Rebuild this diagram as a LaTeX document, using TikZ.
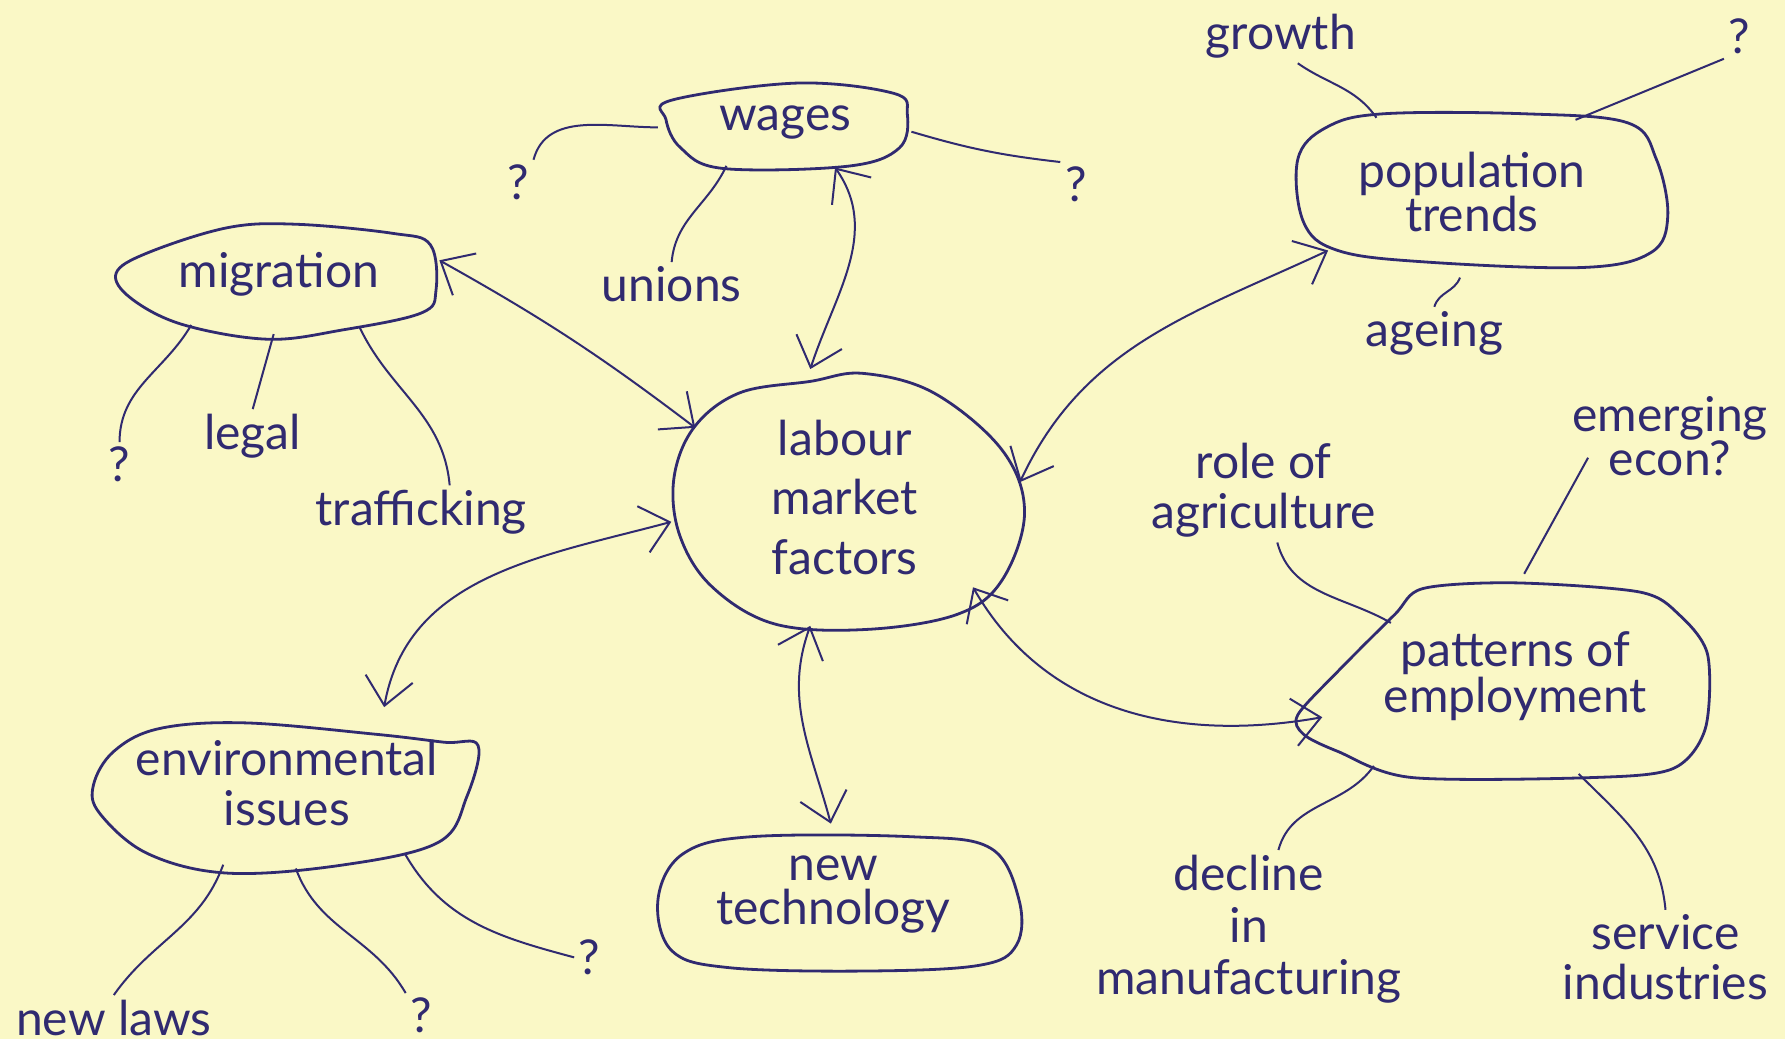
\documentclass[tikz,border=0pt]{standalone}
\usepackage{fontspec}
\setmainfont{Lato}
\usetikzlibrary{arrows.meta, shapes.geometric}
\definecolor{ink}{RGB}{48,42,112}
\definecolor{paper}{RGB}{250,248,198}

\begin{document}
\begin{tikzpicture}[
    font=\fontsize{12}{12.5}\selectfont, text=ink,
    hub/.style={ellipse, align=center, inner sep=0pt, outer sep=0pt},
    leaf/.style={align=center, inner sep=1pt},
    outline/.style={ink, line width=0.7pt, line join=round},
    link/.style={ink, line width=0.5pt},
    twoway/.style={link, {Straight Barb[length=2.4mm,width=4.2mm]}-{Straight Barb[length=2.4mm,width=4.2mm]}}
  ]
  % Paper
  \fill[paper] (0,0) rectangle (15.68,9.13);
  \useasboundingbox (0,0) rectangle (15.68,9.13);

  % Main topics
  \node[hub, minimum width=2.25cm, minimum height=0.85cm] (wag) at (6.90,8.05) {wages};
  \node[hub, minimum width=2.9cm, minimum height=1.05cm] (mig) at (2.45,6.72) {migration};
  \node[hub, minimum width=3.45cm, minimum height=1.5cm, font=\fontsize{12}{11}\selectfont] (pop) at (12.93,7.44) {population\\trends};
  \node[hub, minimum width=3.1cm, minimum height=2.3cm, font=\fontsize{12}{14.8}\selectfont] (lab) at (7.42,4.76) {labour\\market\\factors};
  \node[hub, minimum width=3.7cm, minimum height=1.8cm, font=\fontsize{12}{11.4}\selectfont] (pat) at (13.31,3.19) {patterns of\\employment};
  \node[hub, minimum width=3.6cm, minimum height=1.5cm] (env) at (2.52,2.25) {environmental\\issues};
  \node[hub, minimum width=3.25cm, minimum height=1.25cm, font=\fontsize{12}{11}\selectfont] (tech) at (7.32,1.27) {new\\technology};

  % Outlines
  \draw[outline] plot[smooth cycle, tension=0.6] coordinates {(5.90,8.25) (7.00,8.40) (7.85,8.31) (7.97,8.13) (7.90,7.83) (7.45,7.67) (6.35,7.65) (5.98,7.83) (5.85,8.08)};
  \draw[outline] plot[smooth cycle, tension=0.6] coordinates {(1.30,6.91) (2.00,7.13) (2.60,7.16) (3.45,7.08) (3.78,6.98) (3.83,6.58) (3.70,6.38) (3.00,6.23) (2.35,6.15) (1.60,6.28) (1.15,6.51) (1.02,6.73)};
  \draw[outline] plot[smooth cycle, tension=0.6] coordinates {(11.65,8.01) (12.15,8.13) (13.40,8.13) (14.30,8.05) (14.55,7.73) (14.65,7.23) (14.50,6.91) (13.90,6.78) (12.50,6.83) (11.75,6.93) (11.45,7.18) (11.40,7.73)};
  \draw[outline] plot[smooth cycle, tension=0.6] coordinates {(6.10,5.38) (6.50,5.68) (7.12,5.78) (7.58,5.85) (8.20,5.68) (8.80,5.18) (9.00,4.63) (8.80,4.03) (8.40,3.73) (7.60,3.60) (6.80,3.65) (6.25,3.98) (5.97,4.43) (5.92,4.93)};
  \draw[outline] plot[smooth cycle, tension=0.5] coordinates {(11.40,2.85) (11.75,3.23) (12.25,3.73) (12.50,3.96) (13.30,4.01) (14.40,3.93) (14.75,3.73) (15.00,3.38) (14.98,2.73) (14.70,2.38) (14.00,2.30) (12.40,2.30) (11.75,2.53) (11.45,2.68)};
  \draw[outline] plot[smooth cycle, tension=0.6] coordinates {(1.00,2.53) (1.40,2.73) (2.15,2.78) (3.30,2.68) (3.90,2.61) (4.20,2.58) (4.10,2.13) (3.85,1.73) (3.00,1.53) (2.00,1.46) (1.30,1.63) (0.88,1.98) (0.82,2.23)};
  \draw[outline] plot[smooth cycle, tension=0.6] coordinates {(6.00,1.63) (6.60,1.78) (8.00,1.78) (8.70,1.68) (8.95,1.23) (8.93,0.83) (8.60,0.65) (7.60,0.60) (6.40,0.63) (5.90,0.78) (5.78,1.23)};

  % Sub-topics
  \node[leaf] (qwl) at (4.55,7.53) {?};
  \node[leaf] (qwr) at (9.45,7.51) {?};
  \node[leaf] (unions) at (5.90,6.63) {unions};
  \node[leaf] (qm) at (1.05,5.05) {?};
  \node[leaf] (legal) at (2.22,5.30) {legal};
  \node[leaf] (traf) at (3.70,4.63) {trafficking};
  \node[leaf] (growth) at (11.25,8.81) {growth};
  \node[leaf] (qtr) at (15.28,8.81) {?};
  \node[leaf] (ageing) at (12.60,6.20) {ageing};
  \node[leaf] (role) at (11.10,4.82) {role of\\agriculture};
  \node[leaf, font=\fontsize{12}{11}\selectfont] (emer) at (14.67,5.30) {emerging\\econ?};
  \node[leaf, font=\fontsize{12}{13}\selectfont] (decline) at (10.97,0.97) {decline\\in\\manufacturing};
  \node[leaf] (service) at (14.63,0.72) {service\\industries};
  \node[leaf] (newlaws) at (1.00,0.19) {new laws};
  \node[leaf] (qem) at (3.70,0.21) {?};
  \node[leaf] (qer) at (5.18,0.72) {?};

  % Links to labour market factors
  \draw[twoway] (wag.-42) to[out=-55,in=72] (lab.105);
  \draw[twoway] (mig.5) to[bend left=4] (lab.155);
  \draw[twoway] (pop.202) to[out=205,in=65] (lab.5);
  \draw[twoway] (lab.188) to[out=195,in=80] (env.38);
  \draw[twoway] (lab.255) to[out=250,in=105] (tech.92);
  \draw[twoway] (lab.-35) to[out=-60,in=190] (pat.192);

  % Branches
  \draw[link] (wag.182) to[out=180,in=75] (qwl.north east);
  \draw[link] (wag.-4) to[bend right=5] (qwr.north west);
  \draw[link] (wag.216) to[out=245,in=85] (unions.north);
  \draw[link] (mig.210) to[out=240,in=90] (qm.north);
  \draw[link] (mig.265) -- (legal.north);
  \draw[link] (mig.-33) to[out=-65,in=95] ([xshift=2.5mm]traf.north);
  \draw[link] (pop.142) to[out=125,in=-35] ([xshift=1.5mm]growth.south);
  \draw[link] (pop.35) -- (qtr.south west);
  \draw[link] (pop.262) to[out=250,in=75] (ageing.north);
  \draw[link] ([shift={(0.1,-0.22)}]pat.150) to[out=150,in=-75] ([xshift=1.2mm]role.south);
  \draw[link] (pat.85) -- ([shift={(-0.72,0.2)}]emer.south);
  \draw[link] ([shift={(-0.05,-0.1)}]pat.210) to[out=235,in=75] ([xshift=2.6mm]decline.north);
  \draw[link] (pat.-57) to[out=-45,in=95] (service.north);
  \draw[link] (env.232) to[out=-110,in=55] (newlaws.north);
  \draw[link] (env.-84) to[out=-70,in=120] (qem.north west);
  \draw[link] (env.-31) to[out=-60,in=165] (qer.west);
\end{tikzpicture}
\end{document}
